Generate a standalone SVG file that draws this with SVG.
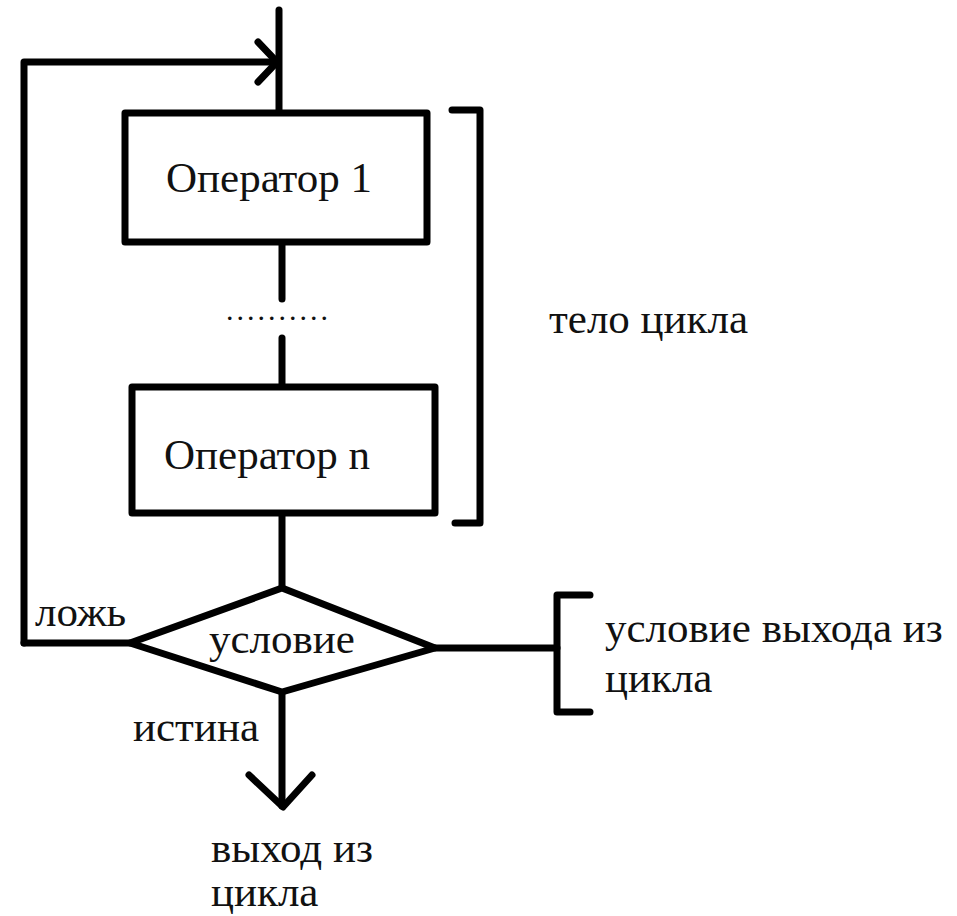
<svg xmlns="http://www.w3.org/2000/svg" width="957" height="916" viewBox="0 0 957 916">
<style>
.ln{fill:none;stroke:#000;stroke-width:7;stroke-linecap:round;stroke-linejoin:round}
.sh{fill:#fff;stroke:#000;stroke-width:7;stroke-linejoin:round}
text{font-family:"Liberation Serif","Times New Roman",serif;font-size:43px;fill:#111}
</style>
<rect width="957" height="916" fill="#fff"/>
<g id="connectors">
<path class="ln" d="M279 10 V115"/>
<path class="ln" d="M24 643 V62 H277"/>
<path class="ln" d="M258 42 L277 62 L258 82"/>
<path class="ln" d="M282 242 V299"/>
<path class="ln" d="M282 338 V387"/>
<path class="ln" d="M282 513 V588"/>
<path class="ln" d="M130 643 H24"/>
<path class="ln" d="M435 648 H557"/>
<path class="ln" d="M282 692 V806"/>
<path class="ln" d="M249 775 L283 807 L312 775"/>
</g>
<g id="op1">
<rect class="sh" x="125" y="113" width="302" height="129"/>
<text x="166" y="192">Оператор 1</text>
</g>
<g id="dots">
<text x="226" y="320" style="font-size:30px;letter-spacing:3px">..........</text>
</g>
<g id="opn">
<rect class="sh" x="132" y="387" width="303" height="126"/>
<text x="164" y="469">Оператор n</text>
</g>
<g id="cond">
<polygon class="sh" points="130,643 282,588 435,648 282,692"/>
<text x="209" y="653">условие</text>
</g>
<g id="body-bracket">
<path class="ln" d="M452 110 H480 V523 H455"/>
<text x="549" y="333">тело цикла</text>
</g>
<g id="exit-bracket">
<path class="ln" d="M590 595 H557 V712 H590"/>
<text x="605" y="642">условие выхода из</text>
<text x="605" y="692">цикла</text>
</g>
<g id="labels">
<text x="35" y="626">ложь</text>
<text x="133" y="741">истина</text>
<text x="211" y="862">выход из</text>
<text x="211" y="906">цикла</text>
</g>
</svg>
